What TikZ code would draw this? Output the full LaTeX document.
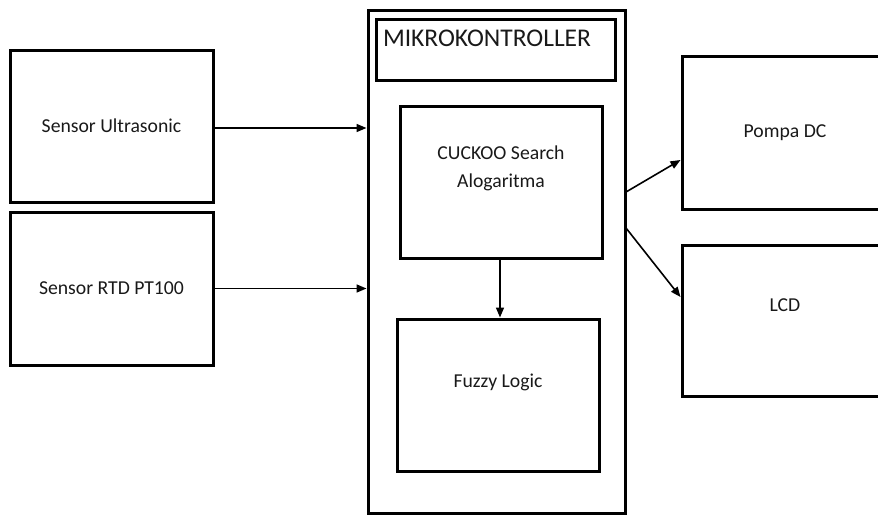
\documentclass[tikz,border=0pt]{standalone}
\usepackage{fontspec}
\setmainfont{Carlito}
\usepackage{tikz}
\usetikzlibrary{arrows.meta}
\definecolor{teks}{RGB}{25, 25, 25}

\tikzset{
  kotak/.style={draw, line width=3pt, text=teks, align=center, inner sep=0pt,
    font=\fontsize{19.7}{28}\selectfont},
  angkat/.style={text depth=#1},
  panah/.style={line width=1.6pt, -{Triangle[length=10pt,width=8pt]}}
}

\begin{document}
\begin{tikzpicture}[x=1pt,y=-1pt]
\useasboundingbox (0,0) rectangle (878,517);
% blok masukan
\node[kotak, minimum width=203, minimum height=152] (sensorUS) at (111.5,126) {Sensor Ultrasonic};
\node[kotak, minimum width=203, minimum height=153] (sensorRTD) at (111.5,288.5) {Sensor RTD PT100};
% mikrokontroller
\node[kotak, minimum width=257, minimum height=503] (mikro) at (496.5,261.5) {};
\node[kotak, minimum width=239, minimum height=61, angkat=22pt, text width=225pt, align=left,
  font=\fontsize{25.5}{30}\selectfont] (judul) at (495.5,49.5) {MIKROKONTROLLER};
\node[kotak, minimum width=202, minimum height=152, angkat=31pt] (cuckoo) at (501,182) {CUCKOO Search\\Alogaritma};
\node[kotak, minimum width=202, minimum height=152, angkat=29pt] (fuzzy) at (498,395) {Fuzzy Logic};
% blok keluaran
\node[kotak, minimum width=206, minimum height=153] (pompa) at (785,132.5) {Pompa DC};
\node[kotak, minimum width=206, minimum height=151, angkat=30pt] (lcd) at (785,320.5) {LCD};
\coordinate (keluar1) at (626,192);
\coordinate (keluar2) at (626,228);
% panah
\draw[panah] ([yshift=-2pt]sensorUS.east) -- ([yshift=-2pt]sensorUS.east -| mikro.west);
\draw[panah] (sensorRTD.east) -- (sensorRTD.east -| mikro.west);
\draw[panah] ([xshift=-1pt]cuckoo.south) -- ([xshift=-1pt]cuckoo.south |- fuzzy.north);
\draw[panah] (keluar1) -- ([yshift=-27.5pt]pompa.west);
\draw[panah] (keluar2) -- ([yshift=23.5pt]lcd.west);
\end{tikzpicture}
\end{document}
